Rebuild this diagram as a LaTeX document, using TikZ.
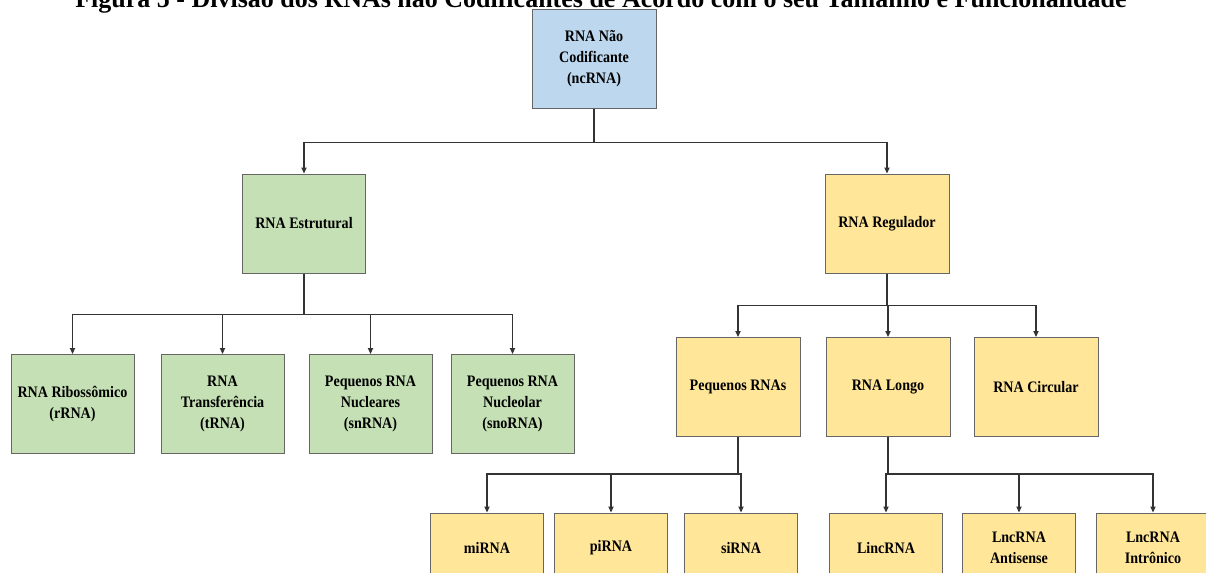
\documentclass[tikz,border=0pt]{standalone}
\usepackage{fontspec}
\setmainfont{Liberation Serif}
\newfontfamily\boxfont{Liberation Serif}[FakeStretch=0.88]
\usetikzlibrary{arrows.meta,positioning}
\definecolor{ncblue}{HTML}{BDD7EE}
\definecolor{estgreen}{HTML}{C5E0B4}
\definecolor{regyellow}{HTML}{FFE699}

\begin{document}
\begin{tikzpicture}[x=0.5pt, y=-0.5pt,
  box/.style={draw=black!60, line width=0.5pt, align=center, inner sep=1pt,
    minimum width=62pt, minimum height=49.5pt,
    font=\boxfont\bfseries\fontsize{8}{10.5}\selectfont},
  nc/.style={box, fill=ncblue},
  est/.style={box, fill=estgreen, minimum width=61.5pt},
  reg/.style={box, fill=regyellow},
  leaf/.style={reg, minimum width=56.5pt, minimum height=35pt},
  op/.style={-{Triangle[length=3pt,width=2.6pt]}, line width=0.6pt, black!80}
]
\useasboundingbox (0,0) rectangle (1206,573);
\node[font=\bfseries\fontsize{13}{14}\selectfont, anchor=base] (title) at (601,7)
  {Figura 5 - Divisão dos RNAs não Codificantes de Acordo com o seu Tamanho e Funcionalidade};

\node[nc] (ncrna) at (594,58.5) {RNA Não\\Codificante\\(ncRNA)};
\node[est] (estr) at (304,223.5) {RNA Estrutural};
\node[reg] (regu) at (887,223.5) {RNA Regulador};

\node[est] (rrna) at (72.5,404) {RNA Ribossômico\\(rRNA)};
\node[est, right=13pt of rrna] (trna) {RNA\\Transferência\\(tRNA)};
\node[est, right=12pt of trna] (snrna) {Pequenos RNA\\Nucleares\\(snRNA)};
\node[est, right=9pt of snrna] (snorna) {Pequenos RNA\\Nucleolar\\(snoRNA)};

\node[reg] (peq) at (738,387) {Pequenos RNAs};
\node[reg, right=12.5pt of peq] (longo) {RNA Longo};
\node[reg, right=11.5pt of longo] (circ) {RNA Circular};

\node[leaf] (mirna) at (487,548) {miRNA};
\node[leaf, right=5pt of mirna] (pirna) {piRNA};
\node[leaf, right=8pt of pirna] (sirna) {siRNA};
\node[leaf] (linc) at (886,548) {LincRNA};
\node[leaf, right=9.5pt of linc] (anti) {LncRNA\\Antisense};
\node[leaf, right=10pt of anti] (intr) {LncRNA\\Intrônico};

% ligacoes
\draw[op] (ncrna.south) -- ++(0,-17pt) -| (estr.north);
\draw[op] (ncrna.south) -- ++(0,-17pt) -| (regu.north);
\foreach \c in {rrna,trna,snrna,snorna}
  \draw[op] (estr.south) -- ++(0,-20.5pt) -| (\c.north);
\foreach \c in {peq,longo,circ}
  \draw[op] (regu.south) -- ++(0,-16pt) -| (\c.north);
\foreach \c in {mirna,pirna,sirna}
  \draw[op] (peq.south) -- ++(0,-18.5pt) -| (\c.north);
\foreach \c in {linc,anti,intr}
  \draw[op] (longo.south) -- ++(0,-18.5pt) -| (\c.north);
\end{tikzpicture}
\end{document}
